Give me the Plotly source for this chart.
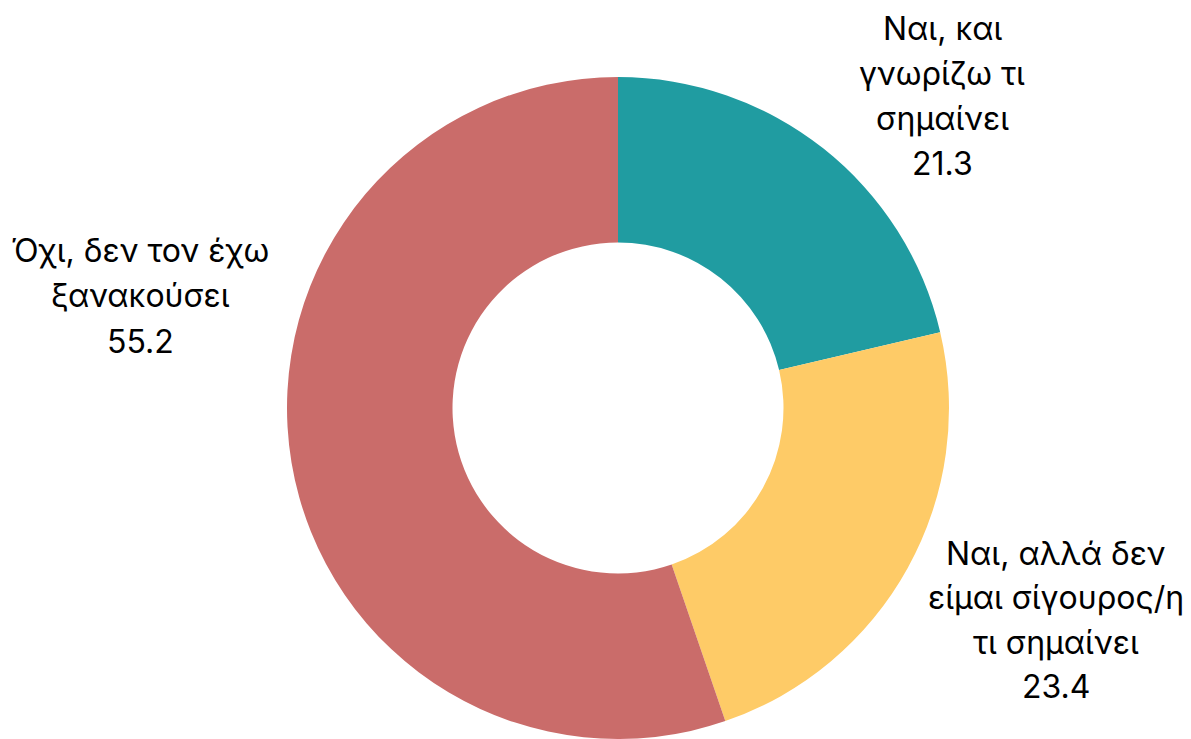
import plotly.graph_objects as go

# ---- data ----
categories = [
    "Ναι, και γνωρίζω τι σημαίνει",
    "Ναι, αλλά δεν είμαι σίγουρος/η τι σημαίνει",
    "Όχι, δεν τον έχω ξανακούσει",
]
values = [21.3, 23.4, 55.2]
label_lines = [
    ["Ναι, και", "γνωρίζω τι", "σημαίνει"],
    ["Ναι, αλλά δεν", "είμαι σίγουρος/η", "τι σημαίνει"],
    ["Όχι, δεν τον έχω", "ξανακούσει"],
]
colors = ["#209CA1", "#FECB67", "#CA6C6A"]

# ---- layout (page pixels; the page body has an 8px margin) ----
OFF = 8
PAGE_W, PAGE_H = 1191, 739
W, H = PAGE_W - OFF, PAGE_H - OFF


def fx(px):
    return (px - OFF) / W


def fy(py):
    return 1 - (py - OFF) / H


label_center_x = [942, 1056, 140]
label_first_y = [28.5, 553, 250]
line_step = [45, 44.5, 45.5]
FONT = dict(family="Inter, Roboto, Arial, sans-serif", size=32, color="#000000")

fig = go.Figure(
    go.Pie(
        labels=categories,
        values=values,
        sort=False,
        direction="clockwise",
        rotation=0,
        hole=0.5,
        marker=dict(colors=colors, line=dict(width=0)),
        textinfo="none",
        hoverinfo="label+value",
        domain=dict(x=[fx(287), fx(949)], y=[0, fy(77)]),
        showlegend=False,
    )
)

annotations = []
for i, lines in enumerate(label_lines):
    all_lines = lines + [f"{values[i]:.1f}"]
    for j, txt in enumerate(all_lines):
        y_px = label_first_y[i] + j * line_step[i]
        annotations.append(
            dict(
                text=txt,
                x=fx(label_center_x[i]),
                y=fy(y_px),
                xref="paper",
                yref="paper",
                xanchor="center",
                yanchor="middle",
                borderpad=0,
                showarrow=False,
                font=FONT,
            )
        )

fig.update_layout(
    width=W,
    height=H,
    margin=dict(l=0, r=0, t=0, b=0),
    paper_bgcolor="white",
    plot_bgcolor="white",
    annotations=annotations,
)

fig.write_html("out.html")
